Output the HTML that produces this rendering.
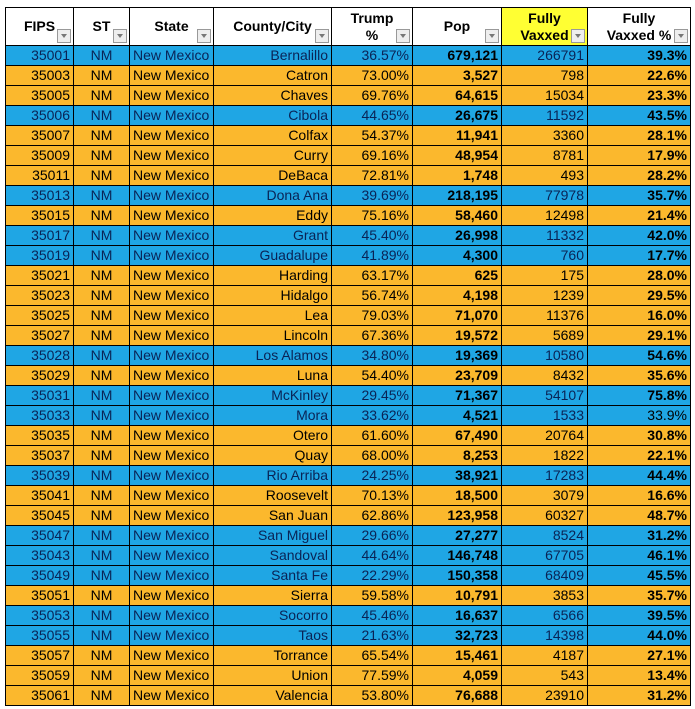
<!DOCTYPE html>
<html><head><meta charset="utf-8"><style>
body{margin:0;background:#fff;width:695px;height:709px;overflow:hidden;font-family:"Liberation Sans",Arial,sans-serif;}
table{position:absolute;left:5px;top:7px;border-collapse:collapse;table-layout:fixed;}
td,th{border:1px solid #000;padding:0 3px;font-size:14px;white-space:nowrap;overflow:hidden;}
th{height:37px;background:#fff;font-weight:bold;position:relative;text-align:center;vertical-align:middle;padding:0 3px;line-height:17px;}
th .d{position:absolute;right:2px;bottom:2px;width:12px;height:12px;border:1px solid #999;background:#eee;}
th .d:after{content:"";position:absolute;left:3px;top:4px;border:3px solid transparent;border-top:4px solid #777;}
td{height:19px;line-height:19px;text-align:right;}
td:nth-child(2){text-align:center}
td:nth-child(3){text-align:left}
tr.b td{background:#1fa6e4;color:#0a2355}
tr.o td{background:#fbb82d;color:#000}
td:nth-child(6),td:nth-child(8){font-weight:bold;color:#000!important}
td.n{font-weight:normal!important}
th.y{background:#ffff33}
</style></head><body>
<table>
<colgroup><col style="width:68px"><col style="width:56px"><col style="width:84px"><col style="width:118px"><col style="width:81px"><col style="width:89px"><col style="width:86px"><col style="width:103px"></colgroup>
<tr><th>FIPS<span class="d"></span></th><th>ST<span class="d"></span></th><th>State<span class="d"></span></th><th>County/City<span class="d"></span></th><th>Trump<br>%<span class="d"></span></th><th>Pop<span class="d"></span></th><th class="y">Fully<br>Vaxxed<span class="d"></span></th><th>Fully<br>Vaxxed %<span class="d"></span></th></tr>
<tr class="b"><td>35001</td><td>NM</td><td>New Mexico</td><td>Bernalillo</td><td>36.57%</td><td>679,121</td><td>266791</td><td>39.3%</td></tr>
<tr class="o"><td>35003</td><td>NM</td><td>New Mexico</td><td>Catron</td><td>73.00%</td><td>3,527</td><td>798</td><td>22.6%</td></tr>
<tr class="o"><td>35005</td><td>NM</td><td>New Mexico</td><td>Chaves</td><td>69.76%</td><td>64,615</td><td>15034</td><td>23.3%</td></tr>
<tr class="b"><td>35006</td><td>NM</td><td>New Mexico</td><td>Cibola</td><td>44.65%</td><td>26,675</td><td>11592</td><td>43.5%</td></tr>
<tr class="o"><td>35007</td><td>NM</td><td>New Mexico</td><td>Colfax</td><td>54.37%</td><td>11,941</td><td>3360</td><td>28.1%</td></tr>
<tr class="o"><td>35009</td><td>NM</td><td>New Mexico</td><td>Curry</td><td>69.16%</td><td>48,954</td><td>8781</td><td>17.9%</td></tr>
<tr class="o"><td>35011</td><td>NM</td><td>New Mexico</td><td>DeBaca</td><td>72.81%</td><td>1,748</td><td>493</td><td>28.2%</td></tr>
<tr class="b"><td>35013</td><td>NM</td><td>New Mexico</td><td>Dona Ana</td><td>39.69%</td><td>218,195</td><td>77978</td><td>35.7%</td></tr>
<tr class="o"><td>35015</td><td>NM</td><td>New Mexico</td><td>Eddy</td><td>75.16%</td><td>58,460</td><td>12498</td><td>21.4%</td></tr>
<tr class="b"><td>35017</td><td>NM</td><td>New Mexico</td><td>Grant</td><td>45.40%</td><td>26,998</td><td>11332</td><td>42.0%</td></tr>
<tr class="b"><td>35019</td><td>NM</td><td>New Mexico</td><td>Guadalupe</td><td>41.89%</td><td>4,300</td><td>760</td><td>17.7%</td></tr>
<tr class="o"><td>35021</td><td>NM</td><td>New Mexico</td><td>Harding</td><td>63.17%</td><td>625</td><td>175</td><td>28.0%</td></tr>
<tr class="o"><td>35023</td><td>NM</td><td>New Mexico</td><td>Hidalgo</td><td>56.74%</td><td>4,198</td><td>1239</td><td>29.5%</td></tr>
<tr class="o"><td>35025</td><td>NM</td><td>New Mexico</td><td>Lea</td><td>79.03%</td><td>71,070</td><td>11376</td><td>16.0%</td></tr>
<tr class="o"><td>35027</td><td>NM</td><td>New Mexico</td><td>Lincoln</td><td>67.36%</td><td>19,572</td><td>5689</td><td>29.1%</td></tr>
<tr class="b"><td>35028</td><td>NM</td><td>New Mexico</td><td>Los Alamos</td><td>34.80%</td><td>19,369</td><td>10580</td><td>54.6%</td></tr>
<tr class="o"><td>35029</td><td>NM</td><td>New Mexico</td><td>Luna</td><td>54.40%</td><td>23,709</td><td>8432</td><td>35.6%</td></tr>
<tr class="b"><td>35031</td><td>NM</td><td>New Mexico</td><td>McKinley</td><td>29.45%</td><td>71,367</td><td>54107</td><td>75.8%</td></tr>
<tr class="b"><td>35033</td><td>NM</td><td>New Mexico</td><td>Mora</td><td>33.62%</td><td>4,521</td><td>1533</td><td class="n">33.9%</td></tr>
<tr class="o"><td>35035</td><td>NM</td><td>New Mexico</td><td>Otero</td><td>61.60%</td><td>67,490</td><td>20764</td><td>30.8%</td></tr>
<tr class="o"><td>35037</td><td>NM</td><td>New Mexico</td><td>Quay</td><td>68.00%</td><td>8,253</td><td>1822</td><td>22.1%</td></tr>
<tr class="b"><td>35039</td><td>NM</td><td>New Mexico</td><td>Rio Arriba</td><td>24.25%</td><td>38,921</td><td>17283</td><td>44.4%</td></tr>
<tr class="o"><td>35041</td><td>NM</td><td>New Mexico</td><td>Roosevelt</td><td>70.13%</td><td>18,500</td><td>3079</td><td>16.6%</td></tr>
<tr class="o"><td>35045</td><td>NM</td><td>New Mexico</td><td>San Juan</td><td>62.86%</td><td>123,958</td><td>60327</td><td>48.7%</td></tr>
<tr class="b"><td>35047</td><td>NM</td><td>New Mexico</td><td>San Miguel</td><td>29.66%</td><td>27,277</td><td>8524</td><td>31.2%</td></tr>
<tr class="b"><td>35043</td><td>NM</td><td>New Mexico</td><td>Sandoval</td><td>44.64%</td><td>146,748</td><td>67705</td><td>46.1%</td></tr>
<tr class="b"><td>35049</td><td>NM</td><td>New Mexico</td><td>Santa Fe</td><td>22.29%</td><td>150,358</td><td>68409</td><td>45.5%</td></tr>
<tr class="o"><td>35051</td><td>NM</td><td>New Mexico</td><td>Sierra</td><td>59.58%</td><td>10,791</td><td>3853</td><td>35.7%</td></tr>
<tr class="b"><td>35053</td><td>NM</td><td>New Mexico</td><td>Socorro</td><td>45.46%</td><td>16,637</td><td>6566</td><td>39.5%</td></tr>
<tr class="b"><td>35055</td><td>NM</td><td>New Mexico</td><td>Taos</td><td>21.63%</td><td>32,723</td><td>14398</td><td>44.0%</td></tr>
<tr class="o"><td>35057</td><td>NM</td><td>New Mexico</td><td>Torrance</td><td>65.54%</td><td>15,461</td><td>4187</td><td>27.1%</td></tr>
<tr class="o"><td>35059</td><td>NM</td><td>New Mexico</td><td>Union</td><td>77.59%</td><td>4,059</td><td>543</td><td>13.4%</td></tr>
<tr class="o"><td>35061</td><td>NM</td><td>New Mexico</td><td>Valencia</td><td>53.80%</td><td>76,688</td><td>23910</td><td>31.2%</td></tr>
</table>
</body></html>
